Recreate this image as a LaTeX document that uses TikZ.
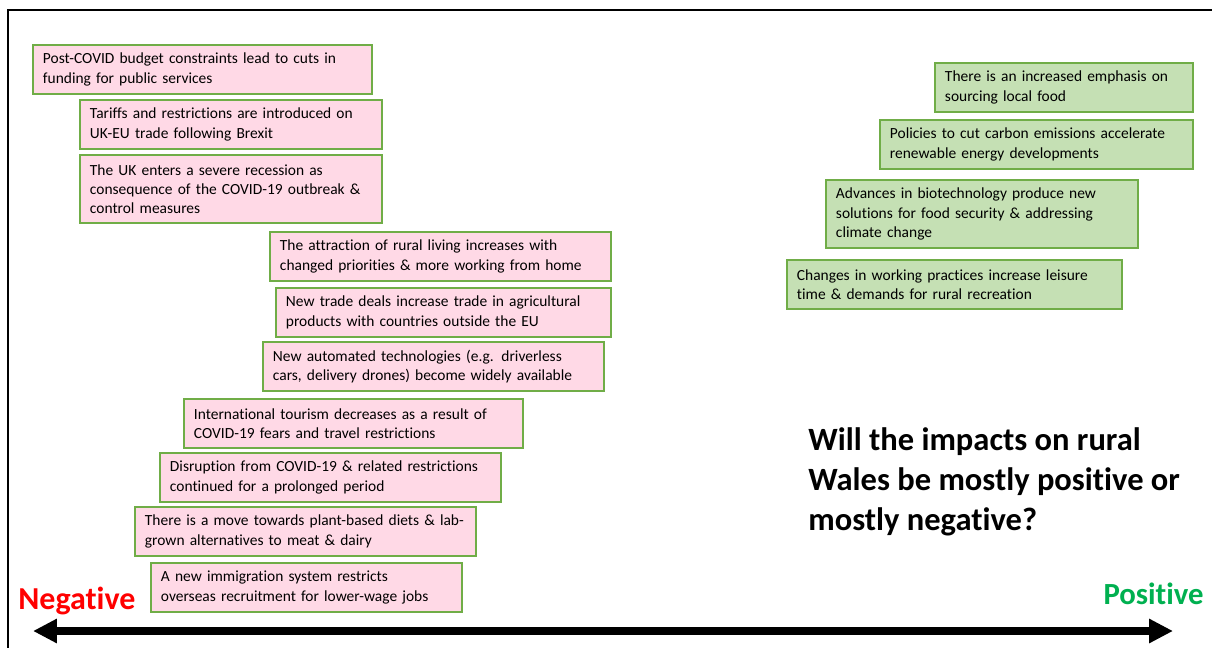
\documentclass[tikz,border=0pt]{standalone}
\usepackage{fontspec}
\setmainfont{Carlito}[Ligatures={NoCommon,NoContextual}]
\usetikzlibrary{arrows.meta}
\definecolor{boxgreen}{RGB}{112,173,71}
\definecolor{pinkfill}{RGB}{255,217,230}
\definecolor{greenfill}{RGB}{197,224,180}
\definecolor{posgreen}{RGB}{0,176,80}
\tikzset{
  negbox/.style={draw=boxgreen, fill=pinkfill, line width=1.1pt,
    anchor=north west, inner xsep=0.2cm, inner ysep=0pt, align=left,
    text width=#1, minimum height=0.98cm,
    font=\fontsize{8.8}{11}\selectfont},
  posbox/.style={negbox=#1, fill=greenfill},
  tall/.style={minimum height=1.37cm},
  axis/.style={line width=4pt, {Triangle[length=0.48cm,width=0.46cm]}-{Triangle[length=0.48cm,width=0.46cm]}}
}

\begin{document}
\begin{tikzpicture}[x=0.02cm,y=-0.02cm]
  \useasboundingbox (0,0) rectangle (1212,648);
  \draw[line width=1.1pt] (8,648) -- (8,10) -- (1212,10);

  \begin{scope}
  \node[negbox=6.38cm] (budget) at (32,44)
    {Post-COVID budget constraints lead to cuts in\\funding for public services};
  \node[negbox=5.64cm] (tariffs) at (79,99)
    {Tariffs and restrictions are introduced on\\UK-EU trade following Brexit};
  \node[negbox=5.64cm, tall] (recession) at (79,154)
    {The UK enters a severe recession as\\consequence of the COVID-19 outbreak \&\\control measures};
  \node[negbox=6.42cm] (rural) at (269,231)
    {The attraction of rural living increases with\\changed priorities \& more working from home};
  \node[negbox=6.30cm] (trade) at (275,287)
    {New trade deals increase trade in agricultural\\products with countries outside the EU};
  \node[negbox=6.42cm] (automated) at (262,341)
    {New automated technologies (e.g. driverless\\cars, delivery drones) become widely available};
  \node[negbox=6.38cm] (tourism) at (183,398)
    {International tourism decreases as a result of\\COVID-19 fears and travel restrictions};
  \node[negbox=6.42cm] (disruption) at (159,452)
    {Disruption from COVID-19 \& related restrictions\\continued for a prolonged period};
  \node[negbox=6.42cm] (plant) at (134,506)
    {There is a move towards plant-based diets \& lab-\\grown alternatives to meat \& dairy};
  \node[negbox=5.82cm] (immigration) at (150,562)
    {A new immigration system restricts\\overseas recruitment for lower-wage jobs};
  \end{scope}

  \begin{scope}
  \node[posbox=4.76cm] (local) at (934,62)
    {There is an increased emphasis on\\sourcing local food};
  \node[posbox=5.86cm] (carbon) at (879,119)
    {Policies to cut carbon emissions accelerate\\renewable energy developments};
  \node[posbox=5.84cm, tall] (biotech) at (825,179)
    {Advances in biotechnology produce new\\solutions for food security \& addressing\\climate change};
  \node[posbox=6.30cm] (leisure) at (786,259)
    {Changes in working practices increase leisure\\time \& demands for rural recreation};
  \end{scope}

  \node[anchor=base west, align=left, inner sep=0pt,
    font=\fontsize{18.5}{22.5}\selectfont\bfseries] (question) at (808,530)
    {Will the impacts on rural\\Wales be mostly positive or\\mostly negative?};

  \node[anchor=base west, inner sep=0pt, text=red,
    font=\fontsize{18.2}{20}\selectfont\bfseries] (negative) at (18,609) {Negative};
  \node[anchor=base east, inner sep=0pt, text=posgreen,
    font=\fontsize{17.5}{20}\selectfont\bfseries] (positive) at (1204,604) {Positive};

  \coordinate (negend) at (33,631);
  \coordinate (posend) at (1173,631);
  \draw[axis] (negend) -- (posend);
\end{tikzpicture}
\end{document}
